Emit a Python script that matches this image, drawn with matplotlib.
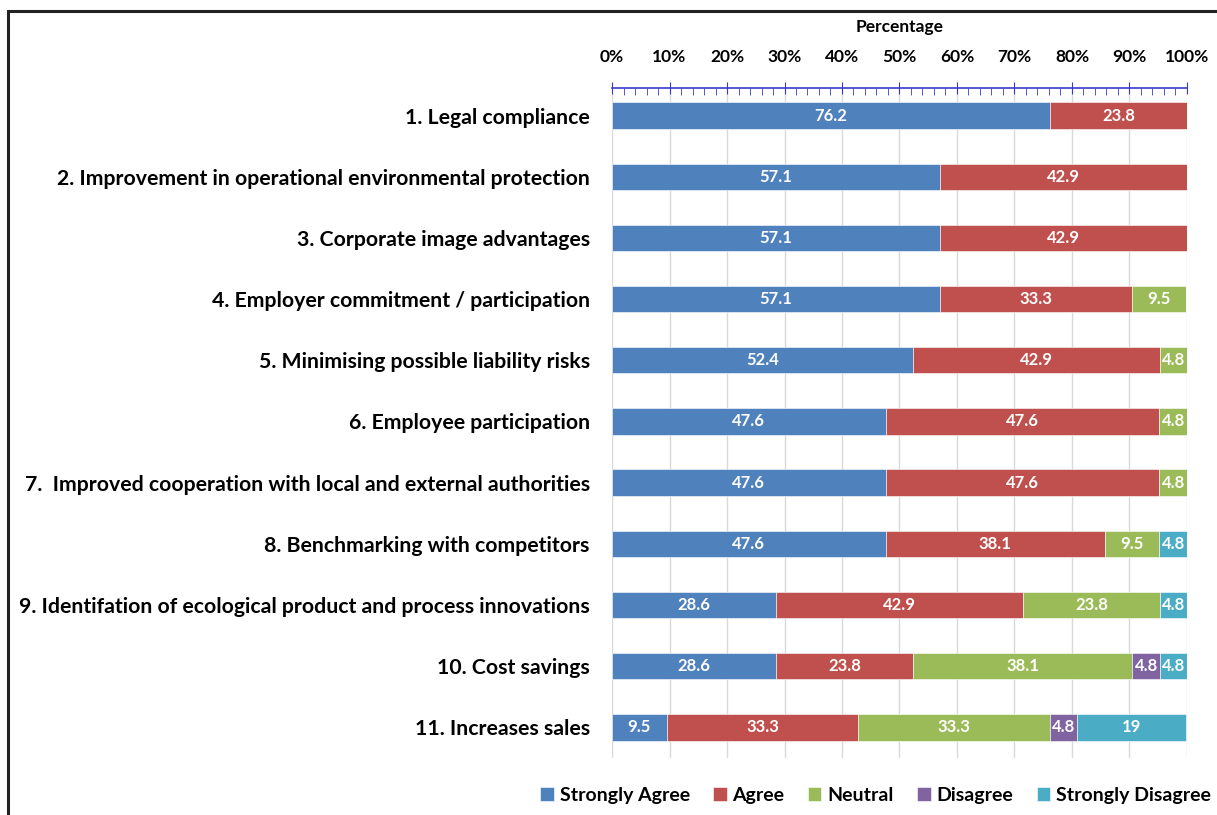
import matplotlib.pyplot as plt
from matplotlib.ticker import MultipleLocator, FuncFormatter
from matplotlib.patches import Rectangle
import numpy as np

plt.rcParams['font.family'] = ['Lato', 'DejaVu Sans']

items = ["1. Legal compliance",
         "2. Improvement in operational environmental protection",
         "3. Corporate image advantages",
         "4. Employer commitment / participation",
         "5. Minimising possible liability risks",
         "6. Employee participation",
         "7.  Improved cooperation with local and external authorities",
         "8. Benchmarking with competitors",
         "9. Identifation of ecological product and process innovations",
         "10. Cost savings",
         "11. Increases sales"]

strongly_agree = [76.2, 57.1, 57.1, 57.1, 52.4, 47.6, 47.6, 47.6, 28.6, 28.6, 9.5]
agree = [23.8, 42.9, 42.9, 33.3, 42.9, 47.6, 47.6, 38.1, 42.9, 23.8, 33.3]
neutral = [0, 0, 0, 9.5, 4.8, 4.8, 4.8, 9.5, 23.8, 38.1, 33.3]
disagree = [0, 0, 0, 0, 0, 0, 0, 0, 0, 4.8, 4.8]
strongly_disagree = [0, 0, 0, 0, 0, 0, 0, 4.8, 4.8, 4.8, 19]

series = [("Strongly Agree", strongly_agree, "#4F81BD"),
          ("Agree", agree, "#C0504D"),
          ("Neutral", neutral, "#9BBB59"),
          ("Disagree", disagree, "#8064A2"),
          ("Strongly Disagree", strongly_disagree, "#4BACC6")]

fig = plt.figure(figsize=(12.17, 8.15), dpi=100)
ax = fig.add_axes([0.5029, 0.070, 0.4724, 0.822])

y = np.arange(len(items))
left = np.zeros(len(items))
for name, vals, col in series:
    vals = np.array(vals)
    bars = ax.barh(y, vals, left=left, height=0.43, color=col, label=name,
                   edgecolor='white', linewidth=0.4, zorder=3)
    for b, v in zip(bars, vals):
        if v > 0:
            ax.text(b.get_x() + b.get_width() / 2, b.get_y() + b.get_height() / 2,
                    f"{v:g}", ha='center', va='center', color='white',
                    fontsize=12, fontweight='bold', zorder=4)
    left += vals

ax.set_xlim(0, 100)
ax.set_ylim(10.5, -0.45)
ax.set_yticks(y)
ax.set_yticklabels(items, fontsize=15.3, fontweight='bold')
ax.tick_params(axis='y', length=0, pad=16)

ax.xaxis.tick_top()
ax.xaxis.set_label_position('top')
ax.xaxis.set_major_locator(MultipleLocator(10))
ax.xaxis.set_minor_locator(MultipleLocator(2))
ax.xaxis.set_major_formatter(FuncFormatter(lambda v, p: f"{v:.0f}%"))
ax.tick_params(axis='x', which='major', direction='inout', length=9, color='#3A3AD0',
               labelsize=12.5, pad=12)
ax.tick_params(axis='x', which='minor', direction='in', length=5, color='#3A3AD0')
for lab in ax.get_xticklabels():
    lab.set_fontweight('bold')
ax.set_xlabel("Percentage", fontsize=12.5, fontweight='bold', labelpad=12)

ax.grid(axis='x', color='#D9D9D9', linewidth=1, zorder=0)
for s in ['left', 'right', 'bottom']:
    ax.spines[s].set_visible(False)
ax.spines['top'].set_color('#3A3AD0')
ax.spines['top'].set_linewidth(1.2)

ax.legend(loc='lower right', bbox_to_anchor=(1.072, -0.095), ncol=5, frameon=False,
          handlelength=0.7, handleheight=0.7, handletextpad=0.3, columnspacing=1.2,
          prop={'size': 14, 'weight': 'bold'}, bbox_transform=ax.transAxes)

# outer frame
fig.add_artist(Rectangle((8 / 1217, -0.1), 1.2, 1 - 11 / 815 + 0.1,
                         transform=fig.transFigure, fill=False,
                         edgecolor='#222222', linewidth=2.2))

fig.savefig("out.png", dpi=100)
